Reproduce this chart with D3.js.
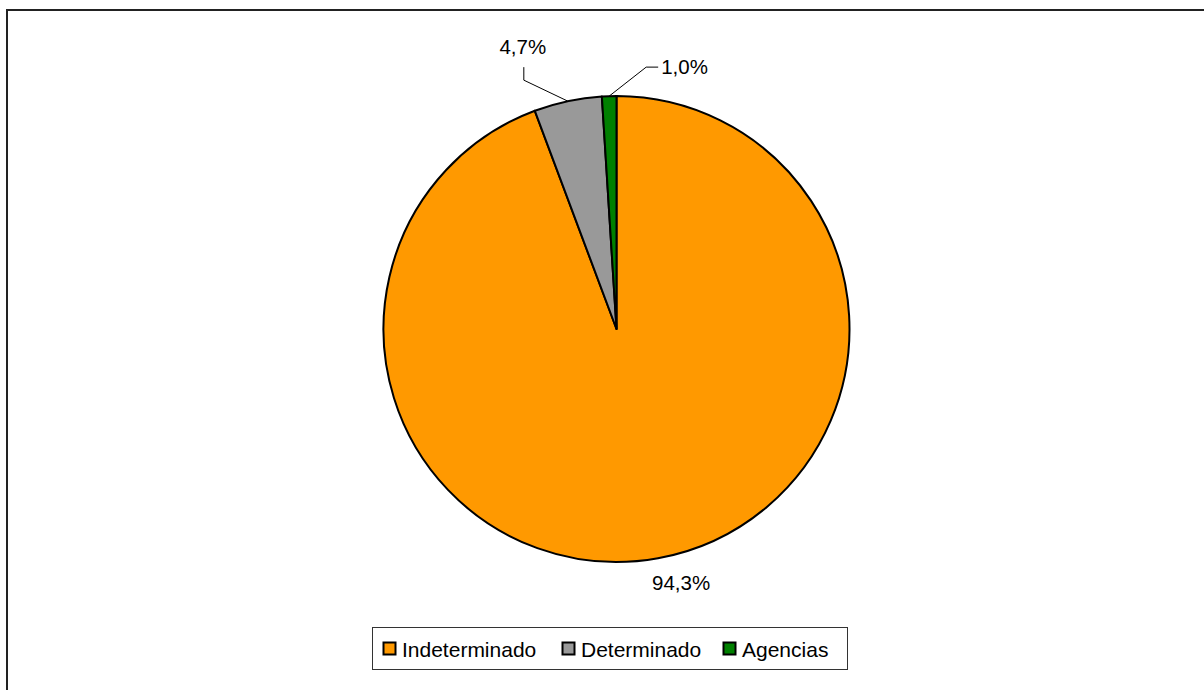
<!DOCTYPE html>
<html>
<head>
<meta charset="utf-8">
<script src="https://cdn.jsdelivr.net/npm/d3@7"></script>
<style>
html,body{margin:0;padding:0;background:#fff;}
svg{display:block;font-family:"Liberation Sans",Arial,sans-serif;}
</style>
</head>
<body>
<svg id="chart" width="1204" height="690"></svg>
<script>
const categories = ["Indeterminado", "Determinado", "Agencias"];
const values = [94.3, 4.7, 1.0];
const labels = ["94,3%", "4,7%", "1,0%"];
const colors = ["#FF9900", "#999999", "#008000"];

const svg = d3.select("#chart");
const W = 1204, H = 690;

// outer border (only top and left visible)
svg.append("rect").attr("x", 7).attr("y", 10).attr("width", W + 20).attr("height", H + 20)
  .attr("fill", "#fff").attr("stroke", "#222").attr("stroke-width", 2);

const cx = 616.5, cy = 329, R = 233;
const g = svg.append("g").attr("transform", `translate(${cx},${cy})`);

const pie = d3.pie().sort(null).value(d => d)(values);
const arc = d3.arc().innerRadius(0).outerRadius(R);

g.selectAll("path.slice").data(pie).enter().append("path")
  .attr("class", "slice")
  .attr("d", arc)
  .attr("fill", (d, i) => colors[i])
  .attr("stroke", "#000").attr("stroke-width", 2).attr("stroke-linejoin", "round");

function pt(a, r) { return [r * Math.sin(a), -r * Math.cos(a)]; }
const mid = d => (d.startAngle + d.endAngle) / 2;
const LFS = 20.5;

// Indeterminado label (no leader)
{
  const d = pie[0];
  const p = pt(mid(d) - 0.07, 262);
  g.append("text").attr("x", p[0]).attr("y", p[1] + 7).attr("text-anchor", "middle")
    .attr("font-size", LFS).attr("fill", "#000").text(labels[0]);
}
// Determinado label with leader
{
  const d = pie[1];
  const p0 = pt(mid(d), R);
  const elbow = [p0[0] - 44, p0[1] - 21];
  const top = [elbow[0], elbow[1] - 13];
  g.append("polyline").attr("points", [p0, elbow, top].map(p => p.join(",")).join(" "))
    .attr("fill", "none").attr("stroke", "#000").attr("stroke-width", 1);
  g.append("text").attr("x", top[0] - 1).attr("y", top[1] - 13).attr("text-anchor", "middle")
    .attr("font-size", LFS).attr("fill", "#000").text(labels[1]);
}
// Agencias label with leader
{
  const d = pie[2];
  const p0 = pt(mid(d), R);
  const elbow = [p0[0] + 37, p0[1] - 29];
  const end = [elbow[0] + 12, elbow[1]];
  g.append("polyline").attr("points", [p0, elbow, end].map(p => p.join(",")).join(" "))
    .attr("fill", "none").attr("stroke", "#000").attr("stroke-width", 1);
  g.append("text").attr("x", end[0] + 3).attr("y", end[1] + 7).attr("text-anchor", "start")
    .attr("font-size", LFS).attr("fill", "#000").text(labels[2]);
}

// Legend
const lg = svg.append("g");
lg.append("rect").attr("x", 372.5).attr("y", 627.5).attr("width", 475).attr("height", 42)
  .attr("fill", "#fff").attr("stroke", "#333").attr("stroke-width", 1);
const swX = [383.5, 562.5, 723.5];
categories.forEach((c, i) => {
  lg.append("rect").attr("x", swX[i]).attr("y", 642.5).attr("width", 12).attr("height", 12)
    .attr("fill", colors[i]).attr("stroke", "#000").attr("stroke-width", 2);
  lg.append("text").attr("x", swX[i] + 18.5).attr("y", 656.5).attr("font-size", 21)
    .attr("fill", "#000").text(c);
});
</script>
</body>
</html>
